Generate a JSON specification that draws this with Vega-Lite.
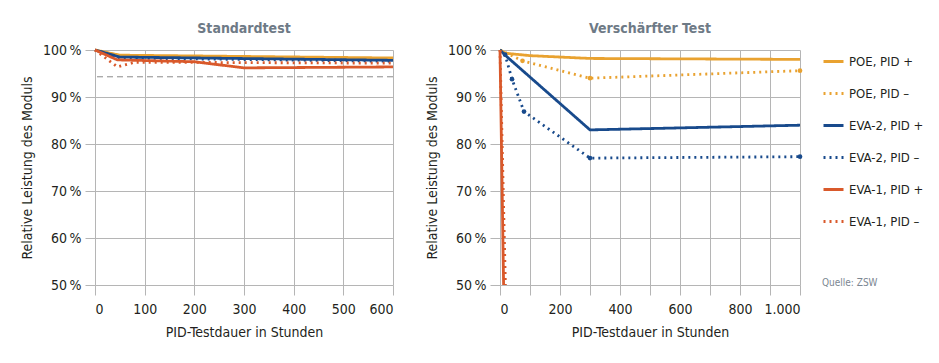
{
  "$schema": "https://vega.github.io/schema/vega-lite/v6.json",
  "background": "white",
  "padding": {"left": 20, "top": 22, "right": 5, "bottom": 5},
  "datasets": {
    "d": [
      {"panel": "Standardtest", "series": "POE, PID +", "h": 0, "v": 100},
      {"panel": "Standardtest", "series": "POE, PID +", "h": 50, "v": 98.9},
      {"panel": "Standardtest", "series": "POE, PID +", "h": 600, "v": 98.3},
      {"panel": "Standardtest", "series": "POE, PID –", "h": 0, "v": 100},
      {"panel": "Standardtest", "series": "POE, PID –", "h": 50, "v": 98.7},
      {"panel": "Standardtest", "series": "POE, PID –", "h": 600, "v": 98.1},
      {"panel": "Standardtest", "series": "EVA-2, PID +", "h": 0, "v": 100},
      {"panel": "Standardtest", "series": "EVA-2, PID +", "h": 50, "v": 98.5},
      {"panel": "Standardtest", "series": "EVA-2, PID +", "h": 600, "v": 97.8},
      {"panel": "Standardtest", "series": "EVA-2, PID –", "h": 0, "v": 100},
      {"panel": "Standardtest", "series": "EVA-2, PID –", "h": 50, "v": 98.3},
      {"panel": "Standardtest", "series": "EVA-2, PID –", "h": 600, "v": 97.6},
      {"panel": "Standardtest", "series": "EVA-1, PID +", "h": 0, "v": 100},
      {"panel": "Standardtest", "series": "EVA-1, PID +", "h": 45, "v": 97.9},
      {"panel": "Standardtest", "series": "EVA-1, PID +", "h": 200, "v": 97.5},
      {"panel": "Standardtest", "series": "EVA-1, PID +", "h": 300, "v": 96.2},
      {"panel": "Standardtest", "series": "EVA-1, PID +", "h": 600, "v": 96.4},
      {"panel": "Standardtest", "series": "EVA-1, PID –", "h": 0, "v": 100},
      {"panel": "Standardtest", "series": "EVA-1, PID –", "h": 45, "v": 96.4},
      {"panel": "Standardtest", "series": "EVA-1, PID –", "h": 80, "v": 97.4},
      {"panel": "Standardtest", "series": "EVA-1, PID –", "h": 600, "v": 97.2},
      {"panel": "Verschärfter Test", "series": "POE, PID +", "h": 0, "v": 100},
      {"panel": "Verschärfter Test", "series": "POE, PID +", "h": 20, "v": 99.3},
      {"panel": "Verschärfter Test", "series": "POE, PID +", "h": 100, "v": 98.8},
      {"panel": "Verschärfter Test", "series": "POE, PID +", "h": 300, "v": 98.2},
      {"panel": "Verschärfter Test", "series": "POE, PID +", "h": 1000, "v": 98.0},
      {"panel": "Verschärfter Test", "series": "POE, PID –", "h": 0, "v": 100},
      {"panel": "Verschärfter Test", "series": "POE, PID –", "h": 75, "v": 97.7},
      {"panel": "Verschärfter Test", "series": "POE, PID –", "h": 300, "v": 94.0},
      {"panel": "Verschärfter Test", "series": "POE, PID –", "h": 1000, "v": 95.6},
      {"panel": "Verschärfter Test", "series": "EVA-2, PID +", "h": 0, "v": 100},
      {"panel": "Verschärfter Test", "series": "EVA-2, PID +", "h": 17, "v": 98.9},
      {"panel": "Verschärfter Test", "series": "EVA-2, PID +", "h": 300, "v": 83.0},
      {"panel": "Verschärfter Test", "series": "EVA-2, PID +", "h": 1000, "v": 84.0},
      {"panel": "Verschärfter Test", "series": "EVA-2, PID –", "h": 0, "v": 100},
      {"panel": "Verschärfter Test", "series": "EVA-2, PID –", "h": 17, "v": 99.0},
      {"panel": "Verschärfter Test", "series": "EVA-2, PID –", "h": 40, "v": 93.8},
      {"panel": "Verschärfter Test", "series": "EVA-2, PID –", "h": 80, "v": 86.9},
      {"panel": "Verschärfter Test", "series": "EVA-2, PID –", "h": 300, "v": 77.0},
      {"panel": "Verschärfter Test", "series": "EVA-2, PID –", "h": 1000, "v": 77.3},
      {"panel": "Verschärfter Test", "series": "EVA-1, PID +", "h": 0, "v": 100},
      {"panel": "Verschärfter Test", "series": "EVA-1, PID +", "h": 12, "v": 50},
      {"panel": "Verschärfter Test", "series": "EVA-1, PID –", "h": 0, "v": 100},
      {"panel": "Verschärfter Test", "series": "EVA-1, PID –", "h": 18, "v": 50}
    ]
  },
  "hconcat": [
    {
      "title": "Standardtest",
      "width": 298,
      "height": 235,
      "layer": [
        {
          "data": {"values": [{"ref": 94.3}]},
          "mark": {"type": "rule", "color": "#8a8a8a", "strokeWidth": 1, "strokeDash": [6, 4]},
          "encoding": {"y": {"field": "ref", "type": "quantitative", "scale": {"domain": [50, 100], "nice": false, "zero": false}}}
        },
        {
          "data": {"name": "d"},
          "transform": [{"filter": "datum.panel == 'Standardtest'"}],
          "mark": {"type": "line", "strokeWidth": 2.8},
          "encoding": {
            "x": {"field": "h", "type": "quantitative", "scale": {"domain": [0, 600], "nice": false},
                  "axis": {"values": [0, 100, 200, 300, 400, 500, 600], "title": "PID-Testdauer in Stunden"}},
            "y": {"field": "v", "type": "quantitative", "scale": {"domain": [50, 100], "nice": false, "zero": false},
                  "axis": {"values": [50, 60, 70, 80, 90, 100], "labelExpr": "datum.value + '\u2009%'", "title": "Relative Leistung des Moduls"}},
            "color": {"field": "series", "type": "nominal",
                      "scale": {"domain": ["POE, PID +", "POE, PID –", "EVA-2, PID +", "EVA-2, PID –", "EVA-1, PID +", "EVA-1, PID –"],
                                "range": ["#E9A230", "#E9A230", "#184A8C", "#184A8C", "#D9592B", "#D9592B"]},
                      "legend": {"title": "Quelle: ZSW"}},
            "strokeDash": {"field": "series", "type": "nominal",
                      "scale": {"domain": ["POE, PID +", "POE, PID –", "EVA-2, PID +", "EVA-2, PID –", "EVA-1, PID +", "EVA-1, PID –"],
                                "range": [[1, 0], [2, 4], [1, 0], [2, 4], [1, 0], [2, 4]]},
                      "legend": {"title": "Quelle: ZSW"}}
          }
        }
      ]
    },
    {
      "title": "Verschärfter Test",
      "width": 300,
      "height": 235,
      "data": {"name": "d"},
      "transform": [{"filter": "datum.panel == 'Verschärfter Test'"}],
      "encoding": {
        "x": {"field": "h", "type": "quantitative", "scale": {"domain": [0, 1000], "nice": false},
              "axis": {"values": [0, 100, 200, 300, 400, 500, 600, 700, 800, 900, 1000],
                       "labelExpr": "datum.value % 200 == 0 ? (datum.value == 1000 ? '1.000' : datum.label) : ''",
                       "title": "PID-Testdauer in Stunden"}},
        "y": {"field": "v", "type": "quantitative", "scale": {"domain": [50, 100], "nice": false, "zero": false},
              "axis": {"values": [50, 60, 70, 80, 90, 100], "labelExpr": "datum.value + '\u2009%'", "title": "Relative Leistung des Moduls"}},
        "color": {"field": "series", "type": "nominal",
                  "scale": {"domain": ["POE, PID +", "POE, PID –", "EVA-2, PID +", "EVA-2, PID –", "EVA-1, PID +", "EVA-1, PID –"],
                            "range": ["#E9A230", "#E9A230", "#184A8C", "#184A8C", "#D9592B", "#D9592B"]},
                  "legend": {"title": "Quelle: ZSW"}}
      },
      "layer": [
        {
          "mark": {"type": "line", "strokeWidth": 2.8},
          "encoding": {
            "strokeDash": {"field": "series", "type": "nominal",
                      "scale": {"domain": ["POE, PID +", "POE, PID –", "EVA-2, PID +", "EVA-2, PID –", "EVA-1, PID +", "EVA-1, PID –"],
                                "range": [[1, 0], [2, 4], [1, 0], [2, 4], [1, 0], [2, 4]]},
                      "legend": {"title": "Quelle: ZSW"}}
          }
        },
        {
          "transform": [{"filter": "(datum.series == 'POE, PID –' || datum.series == 'EVA-2, PID –') && datum.h > 0"}],
          "mark": {"type": "point", "filled": true, "size": 22, "opacity": 1}
        }
      ]
    }
  ],
  "spacing": 26,
  "config": {
    "font": "Liberation Sans Narrow, DejaVu Sans Condensed, sans-serif",
    "view": {"stroke": null},
    "title": {"font": "Liberation Sans Narrow, DejaVu Sans Condensed, sans-serif", "fontSize": 14, "fontWeight": "bold", "color": "#6E7A86", "offset": 7, "anchor": "middle"},
    "axis": {
      "gridColor": "#b5b5b5", "gridWidth": 1, "gridOpacity": 1,
      "tickColor": "#b5b5b5", "tickSize": 10, "tickWidth": 1,
      "domain": false,
      "labelFont": "Liberation Sans Narrow, DejaVu Sans Condensed, sans-serif", "labelFontSize": 14, "labelColor": "#231F20",
      "titleFont": "Liberation Sans Narrow, DejaVu Sans Condensed, sans-serif", "titleFontSize": 14, "titleFontWeight": "normal", "titleColor": "#231F20"
    },
    "axisX": {"labelPadding": 7, "titlePadding": 9},
    "axisY": {"labelPadding": 4, "titlePadding": 8},
    "legend": {
      "orient": "right", "offset": 16,
      "symbolType": "stroke", "symbolSize": 400, "symbolStrokeWidth": 3,
      "labelFont": "Liberation Sans Narrow, DejaVu Sans Condensed, sans-serif", "labelFontSize": 13, "labelColor": "#231F20",
      "rowPadding": 13,
      "titleOrient": "bottom", "titleFont": "Liberation Sans Narrow, DejaVu Sans Condensed, sans-serif",
      "titleFontSize": 10, "titleFontWeight": "normal", "titleColor": "#7B8691", "titlePadding": 49
    }
  }
}
